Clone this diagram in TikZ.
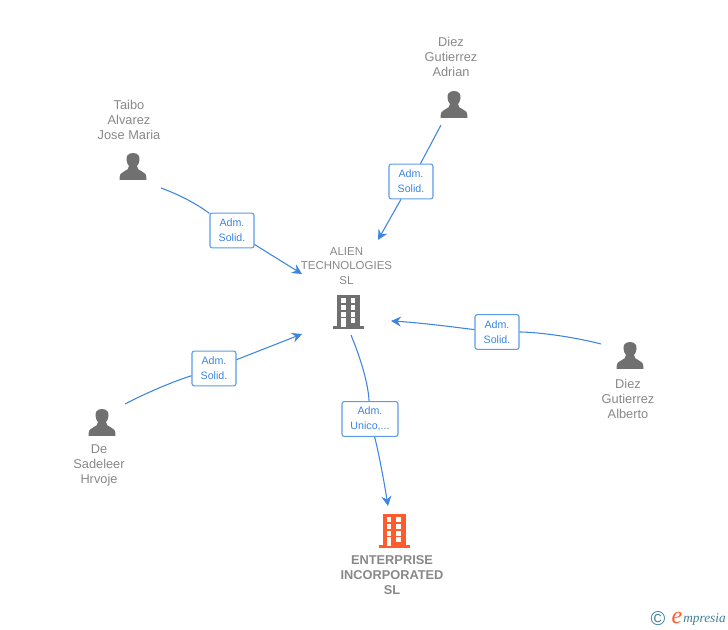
\documentclass[tikz,border=0pt]{standalone}
\usepackage{fontspec}
\setmainfont{Liberation Sans}
\newfontfamily\logofont{Liberation Serif}
\usetikzlibrary{arrows.meta}
\definecolor{textgrey}{HTML}{888888}
\definecolor{icongrey}{HTML}{707070}
\definecolor{linkblue}{HTML}{3D85E0}
\definecolor{boxblue}{HTML}{5C9BE8}
\definecolor{orangebuild}{HTML}{FF5C2E}
\definecolor{logoteal}{HTML}{3E7F99}
\tikzset{
  caption/.style={text=textgrey, font=\fontsize{9.6}{11}\selectfont, align=center, inner sep=0pt},
  firm/.style={caption, font=\fontsize{9.6}{11.2}\selectfont\bfseries},
  role/.style={draw=boxblue, fill=white, rounded corners=1.6pt, line width=0.8pt, text=linkblue,
    font=\fontsize{8}{11.2}\selectfont, align=center, inner sep=0pt, minimum width=33pt, minimum height=26pt},
  link/.style={draw=linkblue, line width=0.8pt},
  linkarrow/.style={link, -{Stealth[length=7.5pt, width=7.5pt, inset=2.6pt]}},
  pics/person/.style={code={
    \fill[icongrey] (0,-14) .. controls (-5.5,-14) and (-7,-10) .. (-6.5,-7) .. controls (-6.2,-4) and (-5,-2) .. (-4,-1)
      .. controls (-4,2) and (-6,3) .. (-9,4.5) .. controls (-12,5.5) and (-13.5,7) .. (-13.5,13)
      -- (13.5,13) .. controls (13.5,7) and (12,5.5) .. (9,4.5) .. controls (6,3) and (4,2) .. (4,-1)
      .. controls (5,-2) and (6.2,-4) .. (6.5,-7) .. controls (7,-10) and (5.5,-14) .. (0,-14) -- cycle;
  }},
  pics/building/.style={code={
    \fill[#1] (-11.5,-17) rectangle (11.5,15);
    \fill[#1] (-15.5,14) rectangle (15.5,17);
    \foreach \rowy in {-14,-7,0} {
      \fill[white] (-7.5,\rowy) rectangle (-3,\rowy+4.6);
      \fill[white] (2,\rowy) rectangle (6.6,\rowy+4.6);
    }
    \fill[white] (-7.5,6) rectangle (-3,15);
    \fill[white] (2,6) rectangle (6.6,10.6);
  }},
}
\begin{document}
\begin{tikzpicture}[x=0.75pt, y=-0.75pt]
  \useasboundingbox (0,0) rectangle (728,630);

  % people
  \node[caption] (taibo) at (129,120) {Taibo\\Alvarez\\Jose Maria};
  \node[caption] (adrian) at (451,57) {Diez\\Gutierrez\\Adrian};
  \node[caption] (alberto) at (628,399) {Diez\\Gutierrez\\Alberto};
  \node[caption] (desadeleer) at (99,465.5) {De\\Sadeleer\\Hrvoje};
  \pic at (133,167) {person};
  \pic at (454,105) {person};
  \pic at (630,356) {person};
  \pic at (102,423) {person};

  % companies
  \node[caption, font=\fontsize{8.6}{11}\selectfont] (alien) at (346.5,266) {ALIEN\\TECHNOLOGIES\\SL};
  \pic at (348.5,312) {building=icongrey};
  \node[firm] (enterprise) at (392,575.5) {ENTERPRISE\\INCORPORATED\\SL};
  \pic at (394,531) {building=orangebuild};

  % roles
  \node[role] (roletaibo) at (232,230.5) {Adm.\\Solid.};
  \node[role] (roleadrian) at (411,181.5) {Adm.\\Solid.};
  \node[role] (rolealberto) at (497,332) {Adm.\\Solid.};
  \node[role] (roledesadeleer) at (214,368.5) {Adm.\\Solid.};
  \node[role, minimum width=42pt] (roleunico) at (370,419) {Adm.\\Unico,...};

  % line ends
  \coordinate (taiboout) at (161,188);
  \coordinate (adrianout) at (441,125);
  \coordinate (albertoout) at (601,344);
  \coordinate (desadeleerout) at (125,404);
  \coordinate (alienout) at (351,335);
  \coordinate (alientop) at (378,240);
  \coordinate (alienleft) at (302,274);
  \coordinate (alienright) at (391,321);
  \coordinate (alienlow) at (302,334);
  \coordinate (enterprisein) at (388,506);

  \draw[link] (taiboout) .. controls (180,195) and (197,204) .. (roletaibo);
  \draw[linkarrow] (roletaibo) -- (alienleft);
  \draw[link] (adrianout) -- (roleadrian);
  \draw[linkarrow] (roleadrian) -- (alientop);
  \draw[link] (albertoout) .. controls (570,336) and (535,332) .. (rolealberto);
  \draw[linkarrow] (rolealberto) .. controls (460,328) and (425,323) .. (alienright);
  \draw[link] (desadeleerout) .. controls (150,391) and (175,381) .. (roledesadeleer);
  \draw[linkarrow] (roledesadeleer) -- (alienlow);
  \draw[link] (alienout) .. controls (358,352) and (368,380) .. (roleunico);
  \draw[linkarrow] (roleunico) .. controls (378,450) and (383,475) .. (enterprisein);

  % logo
  \node[inner sep=0pt, text=logoteal, font=\fontsize{15}{15}\selectfont] (logomark) at (658,619) {\textcopyright};
  \node[inner sep=0pt, text=orangebuild, font=\logofont\itshape\fontsize{18}{18}\selectfont] (logoe) at (677,618) {e};
  \node[inner sep=0pt, anchor=west, text=logoteal, font=\logofont\itshape\fontsize{10}{10}\selectfont] (logotext) at (683,620) {mpresia};
\end{tikzpicture}
\end{document}
